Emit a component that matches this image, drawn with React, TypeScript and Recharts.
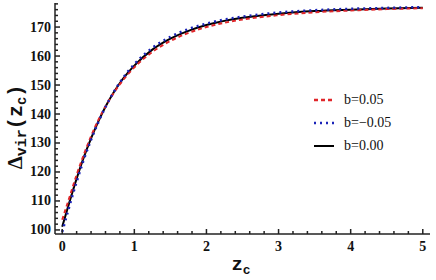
import React from 'react';
import { LineChart, Line, XAxis, YAxis } from 'recharts';

const zValues = [0, 0.1, 0.2, 0.3, 0.4, 0.5, 0.6, 0.7, 0.8, 0.9, 1.0, 1.25, 1.5, 1.75, 2.0, 2.5, 3.0, 3.5, 4.0, 4.5, 5.0];
const deltaBPos = [103.5, 111.2, 119.0, 126.0, 132.3, 137.9, 142.6, 146.7, 150.3, 153.4, 156.1, 161.4, 165.2, 168.0, 170.0, 172.6, 174.1, 175.1, 175.7, 176.2, 176.5];
const deltaBNeg = [99.3, 108.2, 116.6, 124.3, 131.1, 137.1, 142.4, 147.0, 150.9, 154.3, 157.2, 162.8, 166.6, 169.3, 171.2, 173.6, 175.0, 175.8, 176.3, 176.6, 176.9];
const deltaBZero = [101.1, 109.6, 117.7, 125.1, 131.6, 137.4, 142.5, 146.9, 150.7, 153.9, 156.7, 162.2, 166.0, 168.7, 170.7, 173.2, 174.6, 175.5, 176.0, 176.4, 176.7];

const xMajorTicks = [0, 1, 2, 3, 4, 5];
const yMajorTicks = [100, 110, 120, 130, 140, 150, 160, 170];
const xDomain: [number, number] = [-0.1, 5.1];
const yDomain: [number, number] = [98.6, 178.3];

const seriesNames = ['b=0.05', 'b=\u22120.05', 'b=0.00'];
const seriesColors = ['#e0262a', '#1a23b8', '#000000'];
const seriesDash = ['4 3', '2 4', undefined];

const xAllTicks: number[] = [];
for (let i = 0; i <= 25; i++) xAllTicks.push(Math.round(i * 0.2 * 10) / 10);
const yAllTicks: number[] = [];
for (let v = 100; v <= 178; v += 2) yAllTicks.push(v);

const data = zValues.map((z, i) => ({ z, pos: deltaBPos[i], neg: deltaBNeg[i], zero: deltaBZero[i] }));

const FONT = 'Liberation Serif, serif';
const MONO = 'Liberation Mono, monospace';
const TICK_COLOR = '#222';

const isMajor = (v: number, majors: number[]) => majors.some((m) => Math.abs(m - v) < 1e-6);

const BottomTick = (props: any) => {
  const { x, y, payload } = props;
  const major = isMajor(payload.value, xMajorTicks);
  return (
    <g>
      <line x1={x} x2={x} y1={y} y2={y - (major ? 5 : 3)} stroke={TICK_COLOR} strokeWidth={1.5} />
      {major && (
        <text x={x} y={y + 17} textAnchor="middle" fontFamily={FONT} fontWeight="bold" fontSize={14} fill="#111">
          {payload.value}
        </text>
      )}
    </g>
  );
};

const TopTick = (props: any) => {
  const { x, y, payload } = props;
  const major = isMajor(payload.value, xMajorTicks);
  return <line x1={x} x2={x} y1={y} y2={y + (major ? 5 : 3)} stroke={TICK_COLOR} strokeWidth={1.5} />;
};

const LeftTick = (props: any) => {
  const { x, y, payload } = props;
  const major = isMajor(payload.value, yMajorTicks);
  return (
    <g>
      <line x1={x} x2={x + (major ? 5 : 3)} y1={y} y2={y} stroke={TICK_COLOR} strokeWidth={1.5} />
      {major && (
        <text x={x - 4} y={y + 4.5} textAnchor="end" fontFamily={FONT} fontWeight="bold" fontSize={14} fill="#111">
          {payload.value}
        </text>
      )}
    </g>
  );
};

const RightTick = (props: any) => {
  const { x, y, payload } = props;
  const major = isMajor(payload.value, yMajorTicks);
  return <line x1={x} x2={x - (major ? 5 : 3)} y1={y} y2={y} stroke={TICK_COLOR} strokeWidth={1.5} />;
};

export default function App() {
  return (
    <div style={{ position: 'absolute', left: 0, top: 0, width: 436, height: 280, background: '#fff' }}>
      <LineChart width={436} height={280} data={data} margin={{ top: 3, right: 6, bottom: 0, left: 0 }}>
        <XAxis
          dataKey="z"
          type="number"
          domain={xDomain}
          allowDataOverflow
          ticks={xAllTicks}
          interval={0}
          tickSize={0}
          tickMargin={0}
          tickLine={false}
          tick={<BottomTick />}
          height={46}
          axisLine={{ stroke: '#222', strokeWidth: 1.5 }}
        />
        <XAxis
          xAxisId="top"
          orientation="top"
          dataKey="z"
          type="number"
          domain={xDomain}
          allowDataOverflow
          ticks={xAllTicks}
          interval={0}
          tickSize={0}
          tickMargin={0}
          tickLine={false}
          tick={<TopTick />}
          height={0}
          axisLine={{ stroke: '#555', strokeWidth: 1.2 }}
        />
        <YAxis
          type="number"
          domain={yDomain}
          allowDataOverflow
          ticks={yAllTicks}
          interval={0}
          tickSize={0}
          tickMargin={0}
          tickLine={false}
          tick={<LeftTick />}
          width={55}
          axisLine={{ stroke: '#222', strokeWidth: 1.5 }}
        />
        <YAxis
          yAxisId="right"
          orientation="right"
          type="number"
          domain={yDomain}
          allowDataOverflow
          ticks={yAllTicks}
          interval={0}
          tickSize={0}
          tickMargin={0}
          tickLine={false}
          tick={<RightTick />}
          width={0}
          axisLine={{ stroke: '#555', strokeWidth: 1.2 }}
        />
        <Line dataKey="zero" name={seriesNames[2]} stroke={seriesColors[2]} strokeWidth={2} dot={false} isAnimationActive={false} type="monotone" />
        <Line dataKey="pos" name={seriesNames[0]} stroke={seriesColors[0]} strokeWidth={2} strokeDasharray={seriesDash[0]} dot={false} isAnimationActive={false} type="monotone" />
        <Line dataKey="neg" name={seriesNames[1]} stroke={seriesColors[1]} strokeWidth={2.5} strokeDasharray={seriesDash[1]} dot={false} isAnimationActive={false} type="monotone" />
      </LineChart>
      <div style={{ position: 'absolute', left: 312, top: 88, fontFamily: FONT, fontSize: 14, color: '#111' }}>
        {seriesNames.map((name, i) => (
          <div key={name} style={{ display: 'flex', alignItems: 'center', height: 23 }}>
            <svg width={24} height={10}>
              <line x1={2} x2={22} y1={5} y2={5} stroke={seriesColors[i]} strokeWidth={i === 2 ? 2 : 2.5} strokeDasharray={seriesDash[i]} />
            </svg>
            <span style={{ marginLeft: 8 }}>{name}</span>
          </div>
        ))}
      </div>
      <svg width={436} height={280} style={{ position: 'absolute', left: 0, top: 0, pointerEvents: 'none' }}>
        <text transform="translate(22,127) rotate(-90)" textAnchor="middle" fontWeight="bold" fill="#111">
          <tspan fontFamily={FONT} fontSize={21}>{'\u0394'}</tspan>
          <tspan fontFamily={MONO} fontSize={15} dy={4}>vir</tspan>
          <tspan fontFamily={MONO} fontSize={20} dy={-4}>(z</tspan>
          <tspan fontFamily={MONO} fontSize={14} dy={4}>c</tspan>
          <tspan fontFamily={MONO} fontSize={20} dy={-4}>)</tspan>
        </text>
        <text x={241} y={270} textAnchor="middle" fontWeight="bold" fill="#111">
          <tspan fontFamily={MONO} fontSize={19}>z</tspan>
          <tspan fontFamily={MONO} fontSize={13} dy={4}>c</tspan>
        </text>
      </svg>
    </div>
  );
}
